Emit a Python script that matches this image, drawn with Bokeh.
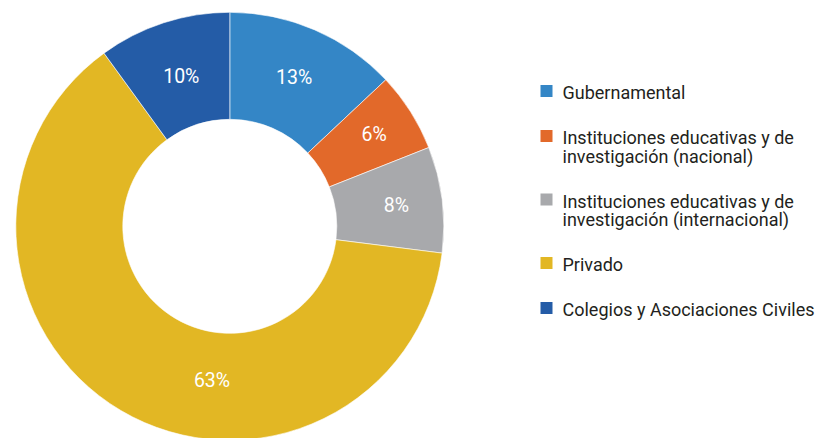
import math
from bokeh.plotting import figure
from bokeh.models import ColumnDataSource, Range1d
from bokeh.core.properties import value
from bokeh.embed import file_html
from bokeh.resources import INLINE

# ---- data ----
categories = [
    "Gubernamental",
    "Instituciones educativas y de\ninvestigación (nacional)",
    "Instituciones educativas y de\ninvestigación (internacional)",
    "Privado",
    "Colegios y Asociaciones Civiles",
]
shares = [13, 6, 8, 63, 10]
pct_labels = ["13%", "6%", "8%", "63%", "10%"]
colors = ["#3486C6", "#E2692A", "#A8A9AC", "#E2B724", "#245CA7"]

# ---- layout (pixel-like data units; page y flipped) ----
W, H = 816, 438
cx, cy = 229.3, H - 225.8
r_out, r_in = 214, 107
label_r = 162
label_adjust_deg = {3: -24.0}                  # label placement tweaks
label_adjust_r = {1: 9.0, 2: 6.0, 3: -7.0, 4: -5.0}

p = figure(width=W, height=H, output_backend="svg", toolbar_location=None,
           x_range=Range1d(0, W), y_range=Range1d(0, H),
           min_border=0, min_border_left=0, min_border_right=0,
           min_border_top=0, min_border_bottom=0)
p.axis.visible = False
p.grid.visible = False
p.outline_line_color = None
p.background_fill_color = "white"
p.border_fill_color = "white"

total = float(sum(shares))
starts, ends, lx, ly = [], [], [], []
cum = 0.0
for i, s in enumerate(shares):
    c0 = cum / total
    c1 = (cum + s) / total
    starts.append(math.pi / 2 - 2 * math.pi * c1)
    ends.append(math.pi / 2 - 2 * math.pi * c0)
    mid_cw = 360.0 * (c0 + c1) / 2 + label_adjust_deg.get(i, 0.0)
    a = math.radians(mid_cw)
    rr = label_r + label_adjust_r.get(i, 0.0)
    lx.append(cx + rr * math.sin(a))
    ly.append(cy + rr * math.cos(a))
    cum += s

src = ColumnDataSource(dict(start=starts, end=ends, color=colors,
                            lx=lx, ly=ly, lab=pct_labels))
p.annular_wedge(x=cx, y=cy, inner_radius=r_in, outer_radius=r_out,
                start_angle="start", end_angle="end", fill_color="color",
                line_color="white", line_width=0.6, source=src)
p.text(x="lx", y="ly", text="lab", source=src, text_color="white",
       text_font=value("Roboto"), text_font_size="19.5px",
       text_align="center", text_baseline="middle")

# ---- legend ----
leg_sq_x = 546.0
leg_txt_x = 562.0
first_base = H - 92.0
line_h = 18.5
gap = 45.0
sq_y, tx, ty, tt = [], [], [], []
base = first_base
for i, cat in enumerate(categories):
    lines = cat.split("\n")
    sq_y.append(base + 1.5)
    for j, ln in enumerate(lines):
        tx.append(leg_txt_x)
        ty.append(base - j * line_h)
        tt.append(ln)
    base = base - (len(lines) - 1) * line_h - gap

p.rect(x=[leg_sq_x] * len(categories), y=sq_y, width=12, height=12,
       fill_color=colors, line_color=None)
p.text(x=tx, y=ty, text=tt, text_color="#231F20",
       text_font=value("Roboto"), text_font_size="18px",
       text_align="left", text_baseline="middle")

open("out.html", "w").write(file_html(p, INLINE))
